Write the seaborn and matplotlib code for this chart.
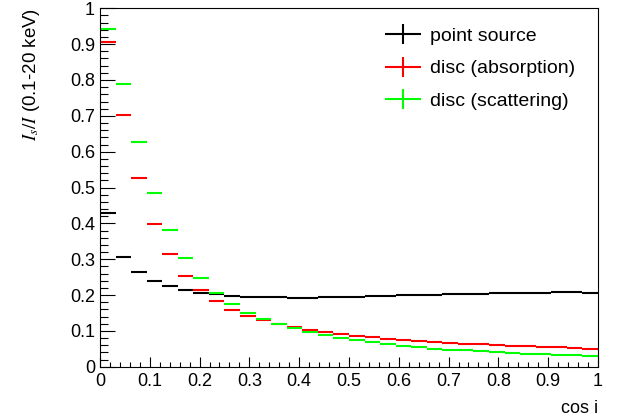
import numpy as np
import pandas as pd
import matplotlib
matplotlib.use("Agg")
import matplotlib.pyplot as plt
import seaborn as sns
from matplotlib.lines import Line2D
from matplotlib.ticker import MultipleLocator

# --- données (32 bins en cos i) ---
n_bins = 32

point_source = [0.428, 0.305, 0.264, 0.238, 0.226, 0.214, 0.206, 0.202,
                0.198, 0.195, 0.194, 0.194, 0.193, 0.191, 0.194, 0.194,
                0.195, 0.197, 0.198, 0.199, 0.200, 0.201, 0.202, 0.203,
                0.204, 0.205, 0.205, 0.206, 0.207, 0.208, 0.208, 0.207]

disc_absorption = [0.907, 0.703, 0.527, 0.398, 0.315, 0.254, 0.214, 0.183,
                   0.159, 0.142, 0.130, 0.119, 0.111, 0.102, 0.097, 0.092,
                   0.087, 0.082, 0.077, 0.074, 0.071, 0.068, 0.066, 0.064,
                   0.062, 0.061, 0.059, 0.057, 0.055, 0.054, 0.052, 0.050]

disc_scattering = [0.941, 0.790, 0.626, 0.484, 0.381, 0.302, 0.248, 0.205,
                   0.175, 0.151, 0.133, 0.119, 0.107, 0.096, 0.088, 0.081,
                   0.074, 0.069, 0.063, 0.058, 0.054, 0.050, 0.048, 0.046,
                   0.043, 0.041, 0.038, 0.036, 0.035, 0.034, 0.032, 0.031]

labels = ["point source", "disc (absorption)", "disc (scattering)"]
colors = ["black", "#ff0000", "#00ff00"]

edges = np.linspace(0, 1, n_bins + 1)
centers = 0.5 * (edges[:-1] + edges[1:])
half_width = 0.5 * (edges[1] - edges[0])

df = pd.DataFrame({"cos_i": np.tile(centers, 3),
                   "ratio": point_source + disc_absorption + disc_scattering,
                   "serie": np.repeat(labels, n_bins)})

# --- style ---
sns.set_theme(style="ticks")
plt.rcParams["font.family"] = ["Liberation Sans", "DejaVu Sans"]
plt.rcParams["mathtext.fontset"] = "stix"
plt.rcParams["xtick.direction"] = "in"
plt.rcParams["ytick.direction"] = "in"
plt.rcParams["text.color"] = "black"
plt.rcParams["axes.labelcolor"] = "black"
plt.rcParams["xtick.color"] = "black"
plt.rcParams["ytick.color"] = "black"
plt.rcParams["axes.edgecolor"] = "black"

fig = plt.figure(figsize=(6.17, 4.18), dpi=100)
ax = fig.add_axes([0.162, 0.1227, 0.8071, 0.8574])

for lab, col in zip(labels, colors):
    sub = df[df["serie"] == lab]
    ax.errorbar(sub["cos_i"], sub["ratio"], xerr=half_width, fmt="none",
                ecolor=col, elinewidth=1.5, capsize=0)

ax.set_xlim(0, 1)
ax.set_ylim(0, 1)
ax.xaxis.set_major_locator(MultipleLocator(0.1))
ax.xaxis.set_minor_locator(MultipleLocator(0.02))
ax.yaxis.set_major_locator(MultipleLocator(0.1))
ax.yaxis.set_minor_locator(MultipleLocator(0.02))
ax.xaxis.set_major_formatter(plt.FuncFormatter(lambda v, p: f"{v:g}"))
ax.yaxis.set_major_formatter(plt.FuncFormatter(lambda v, p: f"{v:g}"))
ax.tick_params(axis="x", which="major", length=7.2, width=0.8, labelsize=13, pad=4.5)
ax.tick_params(axis="x", which="minor", length=3.6, width=0.8)
ax.tick_params(axis="y", which="major", length=10.8, width=0.8, labelsize=13, pad=3.5)
ax.tick_params(axis="y", which="minor", length=5.4, width=0.8)
for s in ax.spines.values():
    s.set_linewidth(0.8)

ax.set_xlabel("cos i", fontsize=13, loc="right", labelpad=7)
ax.set_ylabel(r"$I_{s}/I$ (0.1-20 keV)", fontsize=13.5, loc="top")
ax.yaxis.set_label_coords(-0.116, 1.0)

handles = [(Line2D([], [], ls="none", marker="_", ms=26.6, mew=1.5, color=c),
            Line2D([], [], ls="none", marker="|", ms=14.4, mew=1.5, color=c))
           for c in colors]
ax.legend(handles, labels, loc="upper left", bbox_to_anchor=(0.572, 0.948),
          frameon=False, fontsize=14, handlelength=1.9, handletextpad=0.4,
          labelspacing=0.78, borderpad=0, borderaxespad=0)

fig.savefig("out.png", dpi=100)
